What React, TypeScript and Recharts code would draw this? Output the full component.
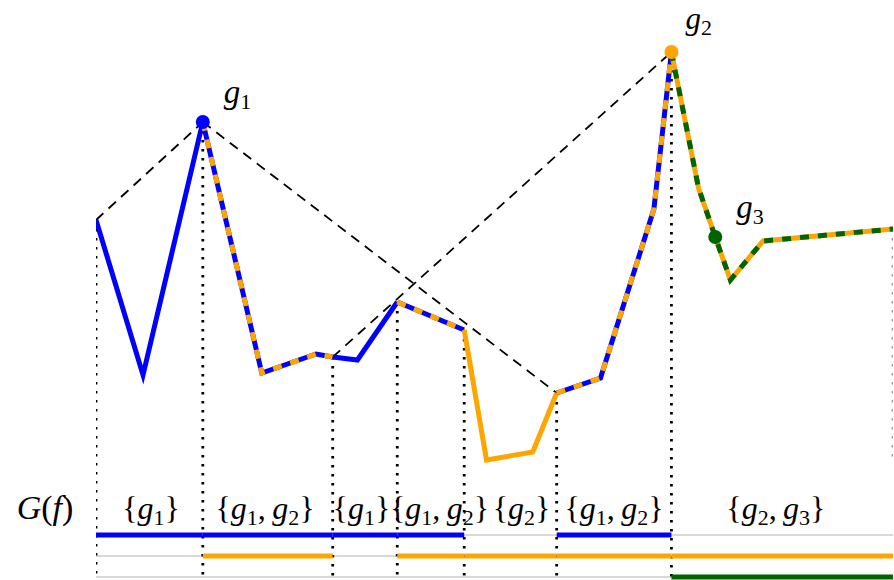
import React from 'react';
import { ComposedChart, Line, XAxis, YAxis, ReferenceDot } from 'recharts';

// corners of f (x along the domain, y = value)
const F_X = [0, 5.9, 13.4, 20.8, 27.6, 29.7, 32.8, 37.8, 46.2, 49, 54.8, 57.8, 63.3, 70, 72.2, 75.6, 77.7, 79.6, 83.7, 100];
const F_Y = [52, 21, 71.6, 21.4, 25.2, 24.6, 24, 35.6, 30, 4, 5.6, 17.4, 20.4, 54.2, 85.6, 58.4, 48.6, 40, 47.8, 50.2];

// generators g1, g2, g3
const G_X = [13.4, 72.2, 77.7];
const G_Y = [71.6, 85.6, 48.6];
const G_COLORS = ['#0000ff', '#ffa500', '#006400'];

// intervals of the domain and the set G(f) on each
const BREAKS = [0, 13.4, 29.7, 37.8, 46.2, 57.8, 72.2, 100];
const SETS = [[0], [0, 1], [0], [0, 1], [1], [0, 1], [1, 2]];
const SET_LABEL_X = [6.9, 21.2, 33.3, 43.1, 53.4, 65.0, 85.3];

// dashed pairing lines [x1, y1, x2, y2]
const PAIRS = [
    [0, 52, 13.4, 71.6],
    [13.4, 71.6, 57.8, 17.4],
    [29.7, 24.6, 72.2, 85.6],
];

const ROW_Y = [-11, -15.2, -19.4]; // one row per generator
const LABEL_Y = -7.8;
const BOTTOM = -20;

const FONT = '"Liberation Serif", serif';

const fAt = (x: number) => F_Y[F_X.indexOf(x)];
const fBetween = (a: number, b: number) =>
    F_X.map((x, i) => ({ x, y: F_Y[i] })).filter((p) => p.x >= a && p.x <= b);

function SetText({ x, y, items }: { x: number; y: number; items: number[] }) {
    return (
        <text x={x} y={y} textAnchor="middle" fontFamily={FONT} fontSize={32} fill="#000" style={{ whiteSpace: 'pre' }}>
            <tspan>{'{'}</tspan>
            {items.map((g, k) => (
                <React.Fragment key={k}>
                    <tspan fontStyle="italic">g</tspan>
                    <tspan fontSize={22} dy={6}>{g + 1}</tspan>
                    <tspan dy={-6}>{k < items.length - 1 ? ',\u2009' : '}'}</tspan>
                </React.Fragment>
            ))}
        </text>
    );
}

export default function App() {
    const line = (key: string, data: { x: number; y: number }[], stroke: string, width: number, dash?: string) => (
        <Line
            key={key}
            data={data}
            dataKey="y"
            type="linear"
            stroke={stroke}
            strokeWidth={width}
            strokeDasharray={dash}
            dot={false}
            activeDot={false}
            isAnimationActive={false}
        />
    );

    return (
        <div style={{ position: 'absolute', left: 0, top: 0, background: '#fff' }}>
            <ComposedChart width={894} height={580} margin={{ top: 0, right: 1, bottom: 0, left: 96 }}>
                <XAxis dataKey="x" type="number" domain={[0, 100]} hide allowDataOverflow />
                <YAxis type="number" domain={[BOTTOM, 96]} hide allowDataOverflow />

                {/* thin rows under G(f) */}
                {ROW_Y.map((ry, g) => line(`row-${g}`, [{ x: 0, y: ry }, { x: 100, y: ry }], '#b4b4b4', 1.2))}

                {/* dotted drops at the breakpoints */}
                {BREAKS.map((bx, i) =>
                    line(
                        `drop-${i}`,
                        [{ x: bx, y: fAt(bx) }, { x: bx, y: i === BREAKS.length - 1 ? 4 : BOTTOM }],
                        i === BREAKS.length - 1 ? '#a0a0a0' : '#000',
                        2.8,
                        '2.5 6.5'
                    )
                )}

                {/* pairing lines */}
                {PAIRS.map(([x1, y1, x2, y2], i) => line(`pair-${i}`, [{ x: x1, y: y1 }, { x: x2, y: y2 }], '#000', 1.8, '10 7'))}

                {/* f, coloured by the generators it belongs to */}
                {SETS.map((set, i) =>
                    set.map((g, k) =>
                        line(`f-${i}-${g}`, fBetween(BREAKS[i], BREAKS[i + 1]), G_COLORS[g], 5, k > 0 ? '9 9' : undefined)
                    )
                )}

                {/* G(f) bars */}
                {SETS.map((set, i) =>
                    set.map((g) =>
                        line(`bar-${i}-${g}`, [{ x: BREAKS[i], y: ROW_Y[g] }, { x: BREAKS[i + 1], y: ROW_Y[g] }], G_COLORS[g], 5)
                    )
                )}

                {/* set labels */}
                {SETS.map((set, i) => (
                    <ReferenceDot
                        key={`set-${i}`}
                        x={SET_LABEL_X[i]}
                        y={LABEL_Y}
                        shape={(p: any) => <SetText x={p.cx} y={p.cy} items={set} />}
                    />
                ))}
                <ReferenceDot
                    x={0}
                    y={LABEL_Y}
                    shape={(p: any) => (
                        <text x={p.cx - 51} y={p.cy} textAnchor="middle" fontFamily={FONT} fontSize={34} fill="#000">
                            <tspan fontStyle="italic">G</tspan>(<tspan fontStyle="italic">f</tspan>)
                        </text>
                    )}
                />

                {/* generators */}
                {G_X.map((gx, g) => (
                    <ReferenceDot
                        key={`g-${g}`}
                        x={gx}
                        y={G_Y[g]}
                        shape={(p: any) => (
                            <g>
                                <circle cx={p.cx} cy={p.cy} r={7} fill={G_COLORS[g]} />
                                <text
                                    x={p.cx + (g === 1 ? 14 : 21)}
                                    y={p.cy - (g === 1 ? 23 : 19)}
                                    fontFamily={FONT}
                                    fontSize={g === 1 ? 31 : 33}
                                    fill="#000"
                                >
                                    <tspan fontStyle="italic">g</tspan>
                                    <tspan fontSize={22} dy={6}>{g + 1}</tspan>
                                </text>
                            </g>
                        )}
                    />
                ))}
            </ComposedChart>
        </div>
    );
}
